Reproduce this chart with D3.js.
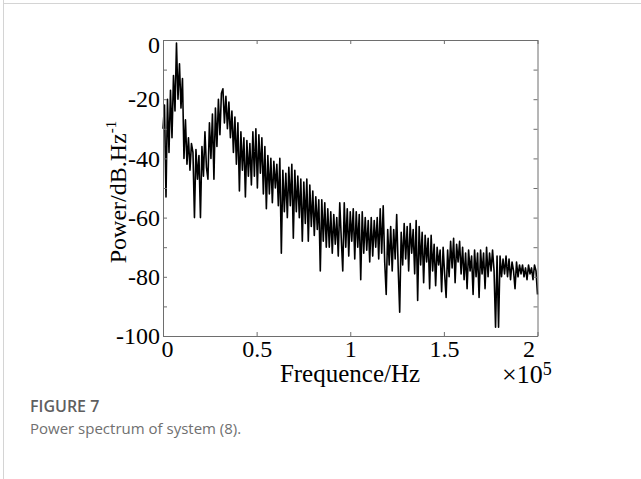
<!DOCTYPE html>
<html>
<head>
<meta charset="utf-8">
<script src="https://cdn.jsdelivr.net/npm/d3@7/dist/d3.min.js"></script>
<style>
  body { margin: 0; background: #fff; }
  svg { display: block; }
</style>
</head>
<body>
<div id="chart"></div>
<script>
// spectrum bins, spacing in Hz
const binWidth = 800;

// power per bin in dB.Hz^-1 (bins 0..250)
const power = [
  -30, -22, -53, -20, -38, -17, -33, -12, -24, -1,
  -20, -8, -23, -13, -40, -27, -42, -33, -44, -35,
  -38, -60, -37, -47, -39, -60, -36, -46, -31, -43,
  -47, -28, -40, -25, -47, -23, -36, -20, -32, -18,
  -16.5, -28, -19, -30, -21, -33, -24, -38, -26, -42,
  -28, -51, -31, -44, -33, -53, -34, -46, -35, -49,
  -31, -46, -30, -50, -32, -45, -33, -52, -36, -57,
  -39, -52, -40, -55, -41, -50, -42, -56, -40, -72,
  -44, -58, -45, -60, -43, -56, -42, -67, -44, -58,
  -46, -60, -47, -68, -48, -62, -47, -68, -49, -63,
  -51, -66, -53, -64, -54, -78, -54, -68, -55, -70,
  -57, -70, -58, -72, -59, -69, -60, -73, -55, -67,
  -78, -55, -70, -57, -73, -58, -68, -57, -74, -58,
  -70, -59, -81, -58, -72, -60, -71, -61, -75, -60,
  -73, -61, -70, -60, -74, -57, -72, -56, -75, -86,
  -64, -76, -63, -78, -64, -74, -59, -77, -92, -65,
  -76, -62, -74, -63, -78, -62, -72, -64, -79, -61,
  -88, -63, -76, -65, -82, -66, -75, -67, -84, -66,
  -78, -69, -83, -70, -76, -71, -85, -70, -79, -87,
  -71, -80, -68, -77, -67, -82, -69, -75, -68, -79,
  -70, -81, -72, -84, -71, -78, -73, -86, -71, -80,
  -72, -87, -71, -79, -72, -84, -70, -80, -72, -78,
  -71, -78, -97, -73, -97, -73, -80, -74, -79, -73,
  -80, -74, -81, -75, -78, -84, -75, -80, -76, -79,
  -76, -80, -77, -81, -76, -79, -77, -81, -76, -78,
  -86
];

const xTicks = [0, 0.5e5, 1e5, 1.5e5, 2e5];
const xTickLabels = ['0', '0.5', '1', '1.5', '2'];
const yTicks = [0, -20, -40, -60, -80, -100];
const yMinorTicks = [-10, -30, -50, -70, -90];

const data = power.map((p, i) => ({ f: i * binWidth, p }));

const width = 641, height = 479;
const plot = { left: 163, right: 537.5, top: 40, bottom: 336 };

const svg = d3.select('#chart').append('svg')
  .attr('width', width)
  .attr('height', height);

// card frame
svg.append('line').attr('x1', 3.5).attr('x2', 3.5).attr('y1', 0).attr('y2', height)
  .attr('stroke', '#d4d4d4');
svg.append('line').attr('x1', 3.5).attr('x2', width).attr('y1', 3.5).attr('y2', 3.5)
  .attr('stroke', '#d4d4d4');

const x = d3.scaleLinear().domain([0, 2e5]).range([plot.left, plot.right]);
const y = d3.scaleLinear().domain([-100, 0]).range([plot.bottom, plot.top]);

const serif = '"Liberation Serif", "Times New Roman", serif';
const axisColor = '#6e6e6e';

// spectrum line
const line = d3.line()
  .x(d => x(d.f))
  .y(d => y(d.p));

svg.append('path')
  .datum(data)
  .attr('fill', 'none')
  .attr('stroke', '#000')
  .attr('stroke-width', 1.6)
  .attr('stroke-linejoin', 'round')
  .attr('d', line);

function styleAxis(g) {
  g.select('.domain').attr('stroke', axisColor);
  g.selectAll('.tick line').attr('stroke', axisColor);
  g.selectAll('.tick text')
    .attr('fill', '#000')
    .style('font-family', serif)
    .style('font-size', '24px');
}

// bottom axis with labels
const xAxisBottom = svg.append('g')
  .attr('transform', `translate(0,${plot.bottom})`)
  .call(d3.axisBottom(x).tickValues(xTicks)
    .tickFormat((d, i) => xTickLabels[i])
    .tickSizeInner(-4).tickSizeOuter(0).tickPadding(4))
  .call(styleAxis);
xAxisBottom.selectAll('.tick text').filter(d => d === 0).attr('dx', 4);
xAxisBottom.selectAll('.tick text').filter(d => d === 2e5).attr('dx', -9);

// top axis, ticks only
svg.append('g')
  .attr('transform', `translate(0,${plot.top})`)
  .call(d3.axisTop(x).tickValues(xTicks).tickFormat('')
    .tickSizeInner(-4).tickSizeOuter(0))
  .call(styleAxis);

// left axis with labels
const yAxisLeft = svg.append('g')
  .attr('transform', `translate(${plot.left},0)`)
  .call(d3.axisLeft(y).tickValues(yTicks.concat(yMinorTicks))
    .tickFormat(d => yTicks.includes(d) ? d : '')
    .tickSizeInner(-4).tickSizeOuter(0).tickPadding(3))
  .call(styleAxis);
yAxisLeft.selectAll('.tick text').filter(d => d === 0).attr('dy', '0.5em');

// right axis, ticks only
svg.append('g')
  .attr('transform', `translate(${plot.right},0)`)
  .call(d3.axisRight(y).tickValues(yTicks.concat(yMinorTicks)).tickFormat('')
    .tickSizeInner(-4).tickSizeOuter(0))
  .call(styleAxis);

// axis titles
svg.append('text')
  .attr('x', 350)
  .attr('y', 382)
  .attr('text-anchor', 'middle')
  .style('font-family', serif)
  .style('font-size', '25px')
  .text('Frequence/Hz');

const mult = svg.append('text')
  .attr('x', 502)
  .attr('y', 383)
  .style('font-family', serif)
  .style('font-size', '26px');
mult.append('tspan').text('\u00d710');
mult.append('tspan').attr('dy', -8).style('font-size', '18px').text('5');

const yTitle = svg.append('text')
  .attr('transform', 'translate(126,192) rotate(-90)')
  .attr('text-anchor', 'middle')
  .style('font-family', serif)
  .style('font-size', '24px');
yTitle.append('tspan').text('Power/dB.Hz');
yTitle.append('tspan').attr('dy', -10).style('font-size', '15px').text('-1');

// caption
svg.append('text')
  .attr('x', 30)
  .attr('y', 412)
  .attr('fill', '#5f5f5f')
  .style('font-family', '"Open Sans", sans-serif')
  .style('font-size', '16px')
  .style('font-weight', 600)
  .text('FIGURE 7');

svg.append('text')
  .attr('x', 30)
  .attr('y', 434)
  .attr('fill', '#707070')
  .style('font-family', '"Open Sans", sans-serif')
  .style('font-size', '15px')
  .text('Power spectrum of system (8).');
</script>
</body>
</html>
